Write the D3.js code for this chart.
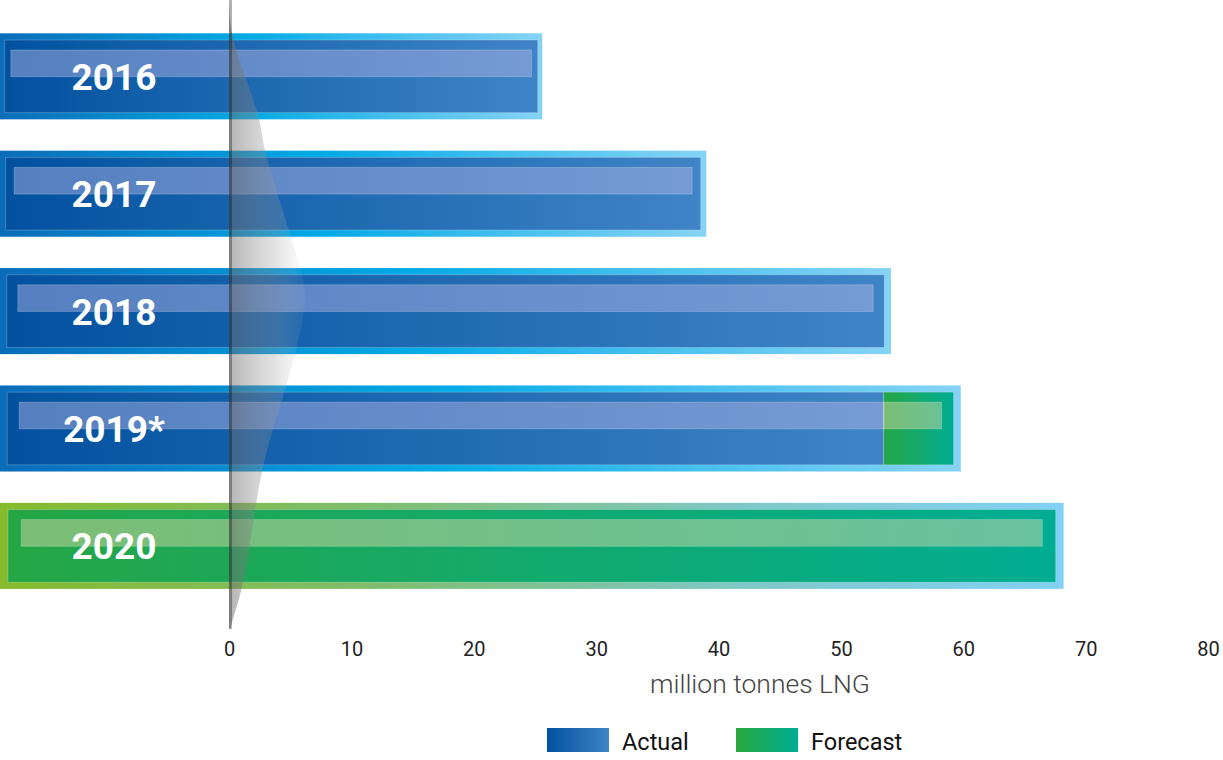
<!DOCTYPE html>
<html><head><meta charset="utf-8">
<script src="https://cdn.jsdelivr.net/npm/d3@7"></script>
<style>
html,body{margin:0;padding:0;background:#fff;}
svg{display:block;font-family:Roboto,"Open Sans",sans-serif;}
</style></head>
<body>
<svg id="chart" width="1223" height="760"></svg>
<script>
// ---- data ----
const years = ["2016", "2017", "2018", "2019*", "2020"];
const actualValues = [25.6, 39.0, 54.1, 53.5, 0];
const forecastValues = [0, 0, 0, 6.3, 68.2];
const tickValues = [0, 10, 20, 30, 40, 50, 60, 70, 80];
const axisTitle = "million tonnes LNG";
const legendLabels = ["Actual", "Forecast"];

const rows = years.map((y, i) => ({
  year: y, actual: actualValues[i], forecast: forecastValues[i],
  total: actualValues[i] + forecastValues[i]
}));

const svg = d3.select("#chart");
const x = d3.scaleLinear().domain([0, 80]).range([229, 1208]);
const y = d3.scaleBand().domain(years).range([33.3, 588.9]).paddingInner(0.267).paddingOuter(0);
const bw = y.bandwidth();

// ---- gradients ----
const defs = svg.append("defs");
function grad(id, stops) {
  const g = defs.append("linearGradient").attr("id", id)
    .attr("x1", 0).attr("y1", 0).attr("x2", 1).attr("y2", 0);
  stops.forEach(s => g.append("stop").attr("offset", s[0]).attr("stop-color", s[1]).attr("stop-opacity", s[2] == null ? 1 : s[2]));
}
grad("frameBlue", [[0, "#0b6cb8"], [0.45, "#02a9e5"], [0.7, "#3fbeee"], [1, "#86d3f5"]]);
grad("frameGreen", [[0, "#86bb2c"], [0.35, "#80bd6e"], [0.7, "#7fc8c8"], [1, "#82d1f4"]]);
grad("innerBlue", [[0, "#02519f"], [1, "#3f84c6"]]);
grad("innerGreen", [[0, "#25a646"], [1, "#00ad93"]]);
grad("fGreen", [[0, "#28a83c"], [1, "#00ad94"]]);
const wg = defs.append("linearGradient").attr("id", "wedge")
  .attr("gradientUnits", "userSpaceOnUse")
  .attr("x1", x(0)).attr("y1", 0).attr("x2", x(0) + 78).attr("y2", 0);
wg.append("stop").attr("offset", 0).attr("stop-color", "#6a6a6a").attr("stop-opacity", 0.5);
wg.append("stop").attr("offset", 0.6).attr("stop-color", "#9a9a9a").attr("stop-opacity", 0.28);
wg.append("stop").attr("offset", 1).attr("stop-color", "#d0d0d0").attr("stop-opacity", 0.05);

const hlBlue = "rgba(186,185,231,0.45)";
const hlGreen = "rgba(230,219,174,0.45)";

// ---- bars ----
const g = svg.append("g");
rows.forEach(d => {
  const top = y(d.year);
  const outerW = x(d.total);
  const isGreen = d.actual === 0;
  const bar = g.append("g");
  bar.append("rect").attr("x", 0).attr("y", top).attr("width", outerW).attr("height", bw)
    .attr("fill", isGreen ? "url(#frameGreen)" : "url(#frameBlue)");
  const inset = 0.0065 * outerW + 1;
  const ix0 = inset, ix1 = outerW - inset;
  const iy = top + 6.7, ih = bw - 13.4;
  const hx0 = 0.02 * outerW, hx1 = 0.98 * outerW, hy = top + 16.7, hh = 26.7;
  const split = d.actual > 0 ? Math.min(x(d.actual), ix1) : ix0;
  if (d.actual > 0) {
    bar.append("rect").attr("x", ix0).attr("y", iy).attr("width", split - ix0).attr("height", ih)
      .attr("fill", "url(#innerBlue)").attr("stroke", "rgba(255,255,255,0.22)").attr("stroke-width", 1);
  }
  if (d.forecast > 0) {
    bar.append("rect").attr("x", split).attr("y", iy).attr("width", ix1 - split).attr("height", ih)
      .attr("fill", "url(#innerGreen)").attr("stroke", "rgba(255,255,255,0.22)").attr("stroke-width", 1);
  }
  // highlight strip
  const hSplit = Math.max(hx0, Math.min(split, hx1));
  if (hSplit > hx0) {
    bar.append("rect").attr("x", hx0).attr("y", hy).attr("width", hSplit - hx0).attr("height", hh)
      .attr("fill", hlBlue).attr("stroke", "rgba(255,255,255,0.22)").attr("stroke-width", 1);
  }
  if (hx1 > hSplit) {
    bar.append("rect").attr("x", hSplit).attr("y", hy).attr("width", hx1 - hSplit).attr("height", hh)
      .attr("fill", hlGreen).attr("stroke", "rgba(255,255,255,0.22)").attr("stroke-width", 1);
  }
});

// ---- zero-axis decoration (line + wedge) ----
const x0 = x(0);
const yTop = 0, yBot = y.range()[1] + 40;
const wedgePts = [
  [0, yTop], [3, 33], [30, 119], [36, 150], [62, 237], [72, 270], [76, 300],
  [66, 355], [58, 383], [34, 467], [14, 583], [1, yBot]
];
const wedgePath = d3.line().x(p => x0 + p[0]).y(p => p[1]).curve(d3.curveCatmullRom.alpha(0.5));
svg.append("path")
  .attr("d", wedgePath(wedgePts) + `L${x0},${yBot}L${x0},${yTop}Z`)
  .attr("fill", "url(#wedge)");
svg.append("rect").attr("x", x0).attr("y", yTop).attr("width", 3).attr("height", yBot - yTop)
  .attr("fill", "#000").attr("fill-opacity", 0.3);

// ---- year labels ----
svg.append("g").selectAll("text").data(rows).join("text")
  .attr("x", 114).attr("y", d => y(d.year) + bw / 2 + 13.5)
  .attr("text-anchor", "middle").attr("fill", "#fff")
  .attr("font-size", 37).attr("font-weight", 700)
  .text(d => d.year);

// ---- axis ----
const axis = d3.axisBottom(x).tickValues(tickValues).tickSize(0).tickPadding(0).tickFormat(d3.format("d"));
const ax = svg.append("g").attr("transform", "translate(0,642)").call(axis);
ax.select(".domain").remove();
ax.selectAll("text").attr("font-size", 20).attr("fill", "#222").attr("dy", "0.71em")
  .attr("font-family", "Roboto, sans-serif");

svg.append("text").attr("x", 760).attr("y", 693).attr("text-anchor", "middle")
  .attr("font-size", 26.5).attr("font-weight", 300).attr("fill", "#444").text(axisTitle);

// ---- legend ----
const leg = svg.append("g");
const legItems = [
  {label: legendLabels[0], fill: "url(#innerBlue)", x: 547},
  {label: legendLabels[1], fill: "url(#fGreen)", x: 736}
];
legItems.forEach(it => {
  leg.append("rect").attr("x", it.x).attr("y", 728).attr("width", 62).attr("height", 24).attr("fill", it.fill);
  leg.append("text").attr("x", it.x + 75).attr("y", 749.5).attr("font-size", 23.5).attr("fill", "#111").text(it.label);
});
</script>
</body></html>
